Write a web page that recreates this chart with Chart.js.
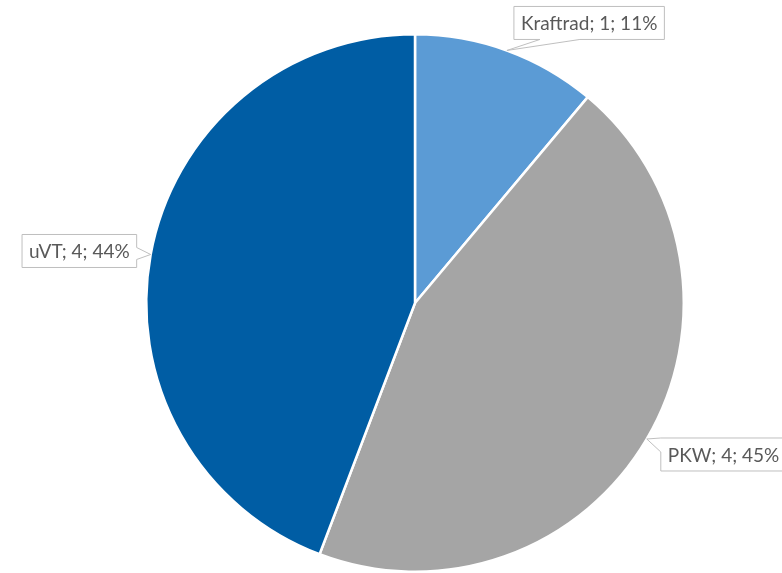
<!DOCTYPE html>
<html>
<head>
<meta charset="utf-8">
<script src="https://cdn.jsdelivr.net/npm/chart.js@4"></script>
<style>
  html, body { margin: 0; padding: 0; background: #fff; }
  #wrap { width: 782px; height: 573px; }
</style>
</head>
<body>
<div id="wrap"><canvas id="pie"></canvas></div>
<script>
// Data
const categories = ['Kraftrad', 'PKW', 'uVT'];
const values = [1, 4.02, 3.98];
const colors = ['#5B9BD5', '#A5A5A5', '#005DA4'];

// Callout placement (box offset from the anchor point on the slice edge), same order as categories
const callouts = [
  { dx: 7, dy: -44, align: 'left', side: 'bottom', base: [26, 66] },   // Kraftrad
  { dx: 14, dy: -1, align: 'left', side: 'left', base: [0, 14] },      // PKW
  { dx: -14, dy: -20, align: 'right', side: 'right', base: [-7, 5] }   // uVT
];

const calloutPlugin = {
  id: 'callouts',
  afterDatasetsDraw(chart) {
    const ctx = chart.ctx;
    const meta = chart.getDatasetMeta(0);
    const total = values.reduce((a, b) => a + b, 0);
    ctx.save();
    ctx.font = '19px Lato, "Open Sans", sans-serif';
    ctx.textBaseline = 'middle';
    meta.data.forEach((arc, i) => {
      const mid = (arc.startAngle + arc.endAngle) / 2;
      const ax = arc.x + Math.cos(mid) * arc.outerRadius;
      const ay = arc.y + Math.sin(mid) * arc.outerRadius;
      const text = categories[i] + '; ' + Math.round(values[i]) + '; ' + Math.round(values[i] / total * 100) + '%';
      const c = callouts[i];
      const w = ctx.measureText(text).width + 14;
      const h = 33;
      const left = c.align === 'left' ? ax + c.dx : ax + c.dx - w;
      const top = ay + c.dy;
      const right = left + w, bottom = top + h;

      ctx.beginPath();
      if (c.side === 'bottom') {
        ctx.moveTo(left, top);
        ctx.lineTo(right, top);
        ctx.lineTo(right, bottom);
        ctx.lineTo(left + c.base[1], bottom);
        ctx.lineTo(ax, ay);
        ctx.lineTo(left + c.base[0], bottom);
        ctx.lineTo(left, bottom);
      } else if (c.side === 'right') {
        ctx.moveTo(left, top);
        ctx.lineTo(right, top);
        ctx.lineTo(right, ay + c.base[0]);
        ctx.lineTo(ax, ay);
        ctx.lineTo(right, ay + c.base[1]);
        ctx.lineTo(right, bottom);
        ctx.lineTo(left, bottom);
      } else {
        ctx.moveTo(left, top);
        ctx.lineTo(right, top);
        ctx.lineTo(right, bottom);
        ctx.lineTo(left, bottom);
        ctx.lineTo(left, top + c.base[1]);
        ctx.lineTo(ax, ay);
        ctx.lineTo(left, top + c.base[0]);
      }
      ctx.closePath();
      ctx.fillStyle = '#fff';
      ctx.fill();
      ctx.strokeStyle = '#BFBFBF';
      ctx.lineWidth = 1;
      ctx.stroke();

      ctx.fillStyle = '#595959';
      ctx.textAlign = 'left';
      ctx.fillText(text, left + 7, top + h / 2 + 1);
    });
    ctx.restore();
  }
};

new Chart(document.getElementById('pie'), {
  type: 'pie',
  data: {
    labels: categories,
    datasets: [{
      data: values,
      backgroundColor: colors,
      borderColor: '#fff',
      borderWidth: 2.5
    }]
  },
  options: {
    responsive: true,
    maintainAspectRatio: false,
    animation: false,
    layout: {
      padding: { top: 33, bottom: 0, left: 48, right: 0 }
    },
    plugins: {
      legend: { display: false },
      tooltip: { enabled: false }
    }
  },
  plugins: [calloutPlugin]
});
</script>
</body>
</html>
